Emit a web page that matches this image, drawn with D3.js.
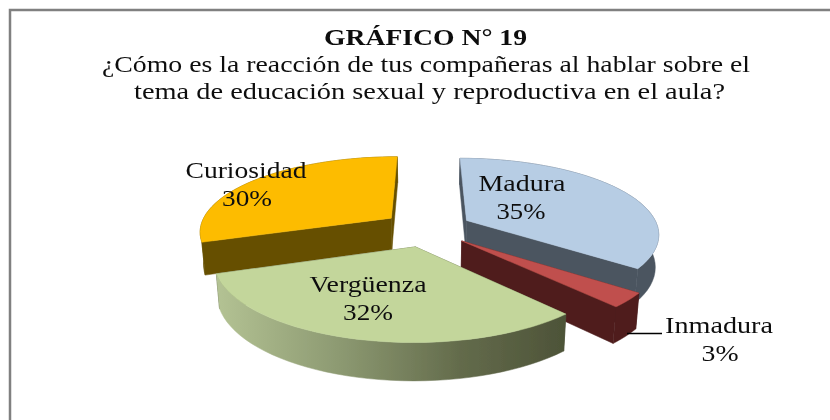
<!DOCTYPE html>
<html><head><meta charset="utf-8">
<script src="https://cdn.jsdelivr.net/npm/d3@7/dist/d3.min.js"></script>
<style>html,body{margin:0;padding:0;background:#fff}svg{display:block}text{font-family:"Liberation Serif",serif;fill:#111}</style>
</head><body><script>
const categories=["Madura","Inmadura","Vergüenza","Curiosidad"];
const values=[35,3,32,30];
const topColors=["#b7cde4","#c0504d","#c3d69b","#fdbc00"];
const wallColors=["#4b5560","#4f1f1e","#4f5539","#665000"];
const titleLines=["GRÁFICO N° 19","¿Cómo es la reacción de tus compañeras al hablar sobre el","tema de educación sexual y reproductiva en el aula?"];

const W=830,H=420,cx=427,cy=228.6,rx=192,ry=77.4,persp=0.162,explode=0.235,depth=32,shrink=0.985;
const svg=d3.select("body").append("svg").attr("width",W).attr("height",H);
const defs=svg.append("defs");
const grad=defs.append("linearGradient").attr("id","vg").attr("gradientUnits","userSpaceOnUse")
  .attr("x1",215).attr("x2",566).attr("y1",0).attr("y2",0);
[[0,"#b4c394"],[.35,"#8d9a72"],[.7,"#636b4b"],[1,"#4d5338"]].forEach(s=>grad.append("stop").attr("offset",s[0]).attr("stop-color",s[1]));
defs.append("filter").attr("id","soft").append("feGaussianBlur").attr("stdDeviation",0.5);
defs.append("filter").attr("id","softer").append("feGaussianBlur").attr("stdDeviation",0.3);

// frame
svg.append("path").attr("d",`M10 ${H} V10 H${W}`).attr("fill","none").attr("stroke","#808080").attr("stroke-width",2.5);

const pie=d3.pie().sort(null).value(d=>d)(values);
const line=d3.line();
function plane(theta,r,mid){return [r*Math.sin(theta)+explode*Math.sin(mid),-r*Math.cos(theta)-explode*Math.cos(mid)];}
function topPt(p){const k=1+persp*p[1];return [cx+rx*p[0]*k,cy+ry*p[1]*k];}
function botPt(p){const k=1+persp*p[1],t=topPt(p);return [cx+(t[0]-cx)*shrink,t[1]+depth*k];}
const order=[3,0,1,2];
const pieG=svg.append("g").attr("filter","url(#soft)");
order.forEach(i=>{
  const a=pie[i],mid=(a.startAngle+a.endAngle)/2;
  const ts=d3.range(0,41).map(j=>a.startAngle+(a.endAngle-a.startAngle)*j/40);
  const apex=plane(0,0,mid),rim=ts.map(t=>plane(t,1,mid));
  const g=pieG.append("g");
  const wall=i===2?"url(#vg)":wallColors[i];
  // radial walls
  [rim[0],rim[rim.length-1]].forEach(e=>{
    g.append("path").attr("d",line([topPt(apex),topPt(e),botPt(e),botPt(apex)])+"Z").attr("fill",wallColors[i]).attr("stroke",wallColors[i]).attr("stroke-width",.5);
  });
  // outer wall
  g.append("path").attr("d",line(rim.map(topPt).concat(rim.map(botPt).reverse()))+"Z").attr("fill",wall).attr("stroke",wall).attr("stroke-width",.5);
  // top face
  g.append("path").attr("d",line([topPt(apex)].concat(rim.map(topPt)))+"Z").attr("fill",topColors[i]).attr("stroke",topColors[i]).attr("stroke-width",.5);
});

const textG=svg.append("g").attr("filter","url(#softer)");
// title
const titlePos=[[425.5,45,24,"bold",203],[426,72,24,"normal",648],[429.5,99,24,"normal",591]];
titleLines.forEach((t,i)=>{const p=titlePos[i];
  textG.append("text").attr("x",p[0]).attr("y",p[1]).attr("text-anchor","middle").attr("font-size",p[2]).attr("font-weight",p[3])
   .attr("textLength",p[4]).attr("lengthAdjust","spacingAndGlyphs").text(t);});

// labels
const labelPos=[[522,191,521],[719,333,720],[368,292,368],[246,178,247]];
const labelW=[87,108,117,121];
const pctW=[49,37,50,50];
categories.forEach((c,i)=>{const p=labelPos[i];
  textG.append("text").attr("x",p[0]).attr("y",p[1]).attr("text-anchor","middle").attr("font-size",24)
    .attr("textLength",labelW[i]).attr("lengthAdjust","spacingAndGlyphs").text(c);
  textG.append("text").attr("x",p[2]).attr("y",p[1]+28).attr("text-anchor","middle").attr("font-size",24)
    .attr("textLength",pctW[i]).attr("lengthAdjust","spacingAndGlyphs").text(values[i]+"%");
});
// leader
svg.append("path").attr("d",line([[627,333.5],[662,333.5]])).attr("stroke","#000").attr("stroke-width",1.5).attr("fill","none");
</script></body></html>
